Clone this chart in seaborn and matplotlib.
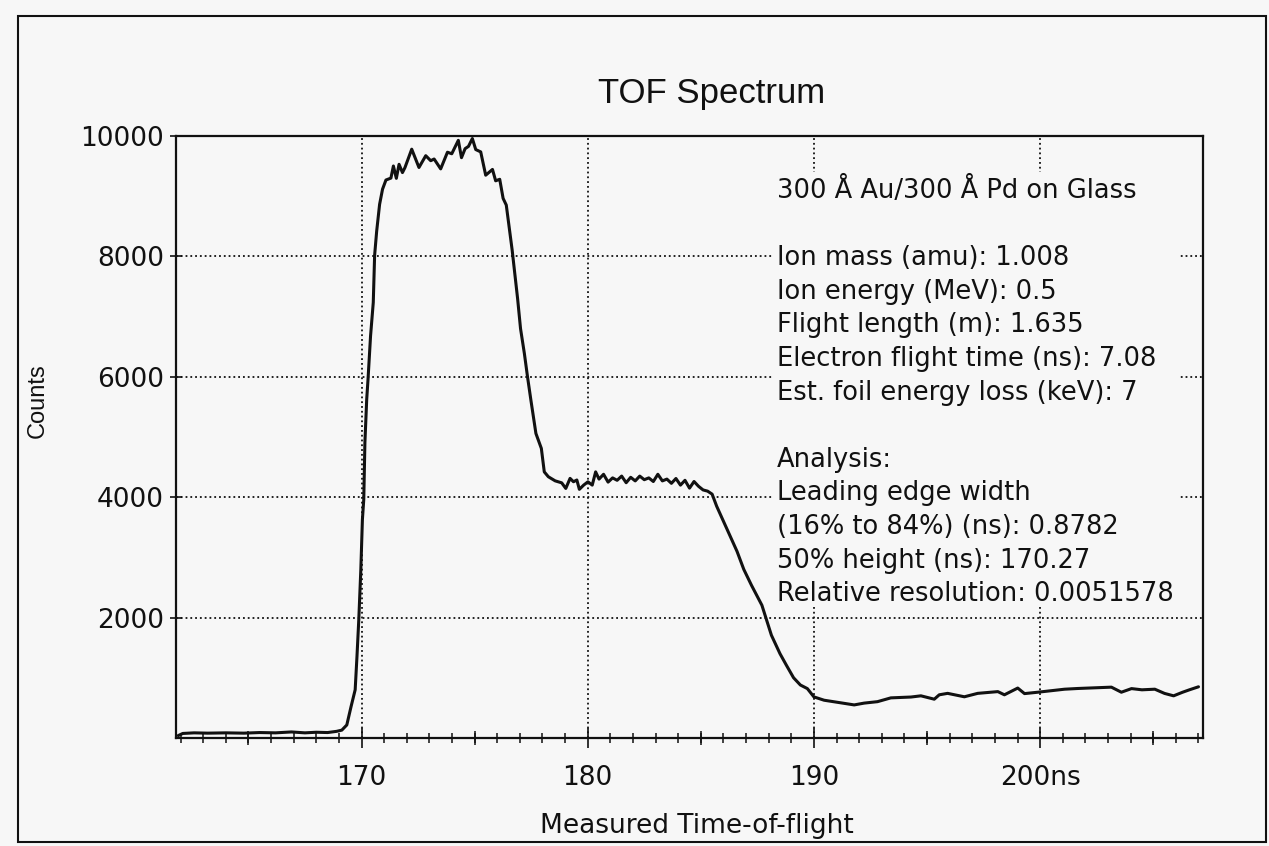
import matplotlib
matplotlib.use("Agg")
import matplotlib.pyplot as plt
from matplotlib.patches import Rectangle
from matplotlib.ticker import MultipleLocator
import pandas as pd
import seaborn as sns

# Time-of-flight spectrum (ns, counts)
tof_ns = [
    161.9, 162.1, 162.6, 163.2, 164.0, 164.8, 165.5, 166.2, 166.9, 167.5,
    168.0, 168.5, 168.9, 169.13, 169.35, 169.54, 169.72, 169.80, 169.88, 169.97,
    170.04, 170.10, 170.15, 170.23, 170.29, 170.40, 170.52, 170.58, 170.67, 170.80,
    170.93, 171.08, 171.30, 171.41, 171.54, 171.66, 171.81, 171.92, 172.22, 172.54,
    172.84, 173.06, 173.21, 173.50, 173.80, 173.99, 174.28, 174.42, 174.58, 174.73,
    174.90, 175.05, 175.27, 175.49, 175.79, 175.93, 176.11, 176.26, 176.40, 176.66,
    176.90, 177.03, 177.20, 177.34, 177.49, 177.71, 177.95, 178.08, 178.26, 178.56,
    178.85, 179.03, 179.22, 179.37, 179.52, 179.63, 179.82, 180.01, 180.20, 180.35,
    180.50, 180.70, 180.90, 181.10, 181.30, 181.50, 181.70, 181.90, 182.10, 182.30,
    182.50, 182.70, 182.90, 183.10, 183.30, 183.50, 183.70, 183.90, 184.10, 184.30,
    184.50, 184.70, 184.90, 185.10, 185.30, 185.50, 185.70, 186.00, 186.30, 186.60,
    186.90, 187.24, 187.70, 188.12, 188.50, 188.78, 189.10, 189.40, 189.71, 190.00,
    190.45, 191.33, 191.78, 192.22, 192.81, 193.40, 194.29, 194.73, 195.32, 195.54,
    195.91, 196.65, 197.24, 198.13, 198.42, 199.01, 199.31, 199.90, 201.08, 201.67,
    203.15, 203.59, 204.04, 204.50, 205.07, 205.50, 205.90, 206.30, 206.60, 207.00,
]
counts = [
    40, 75, 85, 80, 85, 80, 90, 85, 100, 85,
    95, 90, 110, 130, 216, 524, 800, 1356, 1965, 2797,
    3629, 3962, 4905, 5624, 5968, 6678, 7233, 8017, 8416, 8864,
    9116, 9268, 9300, 9501, 9296, 9529, 9391, 9474, 9780, 9476,
    9672, 9589, 9617, 9453, 9730, 9704, 9927, 9639, 9789, 9827,
    9957, 9774, 9735, 9348, 9444, 9255, 9280, 8963, 8852, 8103,
    7300, 6800, 6386, 5996, 5607, 5058, 4810, 4420, 4339, 4271,
    4238, 4145, 4312, 4256, 4285, 4130, 4200, 4255, 4200, 4420,
    4300, 4380, 4250, 4320, 4280, 4350, 4240, 4330, 4270, 4350,
    4290, 4320, 4260, 4380, 4270, 4300, 4230, 4310, 4200, 4280,
    4150, 4260, 4180, 4120, 4100, 4050, 3850, 3600, 3350, 3100,
    2800, 2536, 2205, 1707, 1400, 1210, 1000, 880, 820, 682,
    627, 576, 549, 579, 603, 666, 680, 700, 644, 717,
    741, 684, 741, 770, 717, 829, 737, 760, 810, 822,
    844, 760, 820, 800, 810, 740, 700, 760, 800, 850,
]

x_major_ticks = [170, 180, 190, 200]
x_major_labels = ["170", "180", "190", "200ns"]
x_mid_ticks = [165, 175, 185, 195, 205]
y_ticks = [2000, 4000, 6000, 8000, 10000]
y_tick_labels = ["2000", "4000", "6000", "8000", "10000"]

title_text = "TOF Spectrum"
x_label = "Measured Time-of-flight"
y_label = "Counts"
info_lines = [
    "300 Å Au/300 Å Pd on Glass",
    "",
    "Ion mass (amu): 1.008",
    "Ion energy (MeV): 0.5",
    "Flight length (m): 1.635",
    "Electron flight time (ns): 7.08",
    "Est. foil energy loss (keV): 7",
    "",
    "Analysis:",
    "Leading edge width",
    "(16% to 84%) (ns): 0.8782",
    "50% height (ns): 170.27",
    "Relative resolution: 0.0051578",
]

paper = "#f7f7f7"
ink = "#111111"

sns.set_theme(style="ticks")
plt.rcParams["font.family"] = ["DejaVu Sans"]
plt.rcParams["axes.facecolor"] = paper
plt.rcParams["figure.facecolor"] = paper

spectrum = pd.DataFrame({"tof": tof_ns, "counts": counts})

fig = plt.figure(figsize=(12.69, 8.46), dpi=100)
ax = fig.add_axes([0.1387, 0.1277, 0.8093, 0.7116])

sns.lineplot(data=spectrum, x="tof", y="counts", ax=ax, color=ink,
             linewidth=2.2, estimator=None, sort=False, zorder=3)

ax.set_xlim(161.8, 207.2)
ax.set_ylim(0, 10000)

# dotted grid
ax.set_xticks(x_major_ticks, labels=x_major_labels)
ax.set_yticks(y_ticks, labels=y_tick_labels)
ax.grid(True, which="major", linestyle=":", color=ink, linewidth=1.3)

for side in ["left", "right", "top", "bottom"]:
    ax.spines[side].set_visible(True)
    ax.spines[side].set_color(ink)
    ax.spines[side].set_linewidth(1.6)

ax.xaxis.set_minor_locator(MultipleLocator(1))
ax.tick_params(axis="x", which="major", direction="inout", length=14.5,
               width=1.2, pad=12.0, labelsize=19, colors=ink, bottom=True)
ax.tick_params(axis="x", which="minor", direction="inout", length=6.5,
               width=1.1, colors=ink, bottom=True)
ax.tick_params(axis="y", which="major", direction="inout", length=8.6,
               width=1.2, pad=4.5, labelsize=19, colors=ink, left=True)
ax.tick_params(axis="y", which="minor", left=False)

# intermediate ticks every 5 ns
mid = ax.secondary_xaxis("bottom")
mid.set_xticks(x_mid_ticks, labels=[""] * len(x_mid_ticks))
mid.tick_params(axis="x", which="major", direction="inout", length=9.5,
                width=1.1, colors=ink)
mid.tick_params(axis="x", which="minor", bottom=False)
mid.spines["bottom"].set_visible(False)

ax.set_xlabel(x_label, fontsize=19, color=ink)
ax.xaxis.set_label_coords(0.507, -0.125)
ax.set_ylabel(y_label, fontsize=17, color=ink, family=["Liberation Sans"])
ax.yaxis.set_label_coords(-0.124, 0.56)

# annotation panel masks the grid behind it
ax.add_patch(Rectangle((0.581, 0.2176), 0.397, 0.7225, transform=ax.transAxes,
                       facecolor=paper, edgecolor="none", zorder=1))
line_step = 33.6 / 602.0
for i, line in enumerate(info_lines):
    if not line:
        continue
    ax.text(0.585, (738 - 198) / 602.0 - i * line_step, line,
            transform=ax.transAxes, ha="left", va="baseline",
            fontsize=18.5, color=ink, zorder=4)

fig.text(0.561, 0.8783, title_text, ha="center", va="baseline",
         fontsize=25, color=ink, family=["Liberation Sans"])

# outer frame of the page
fig.add_artist(Rectangle((0.0142, 0.0047), 0.9834, 0.9763,
                         transform=fig.transFigure, fill=False,
                         edgecolor=ink, linewidth=1.5))

fig.savefig("out.png", dpi=100)
